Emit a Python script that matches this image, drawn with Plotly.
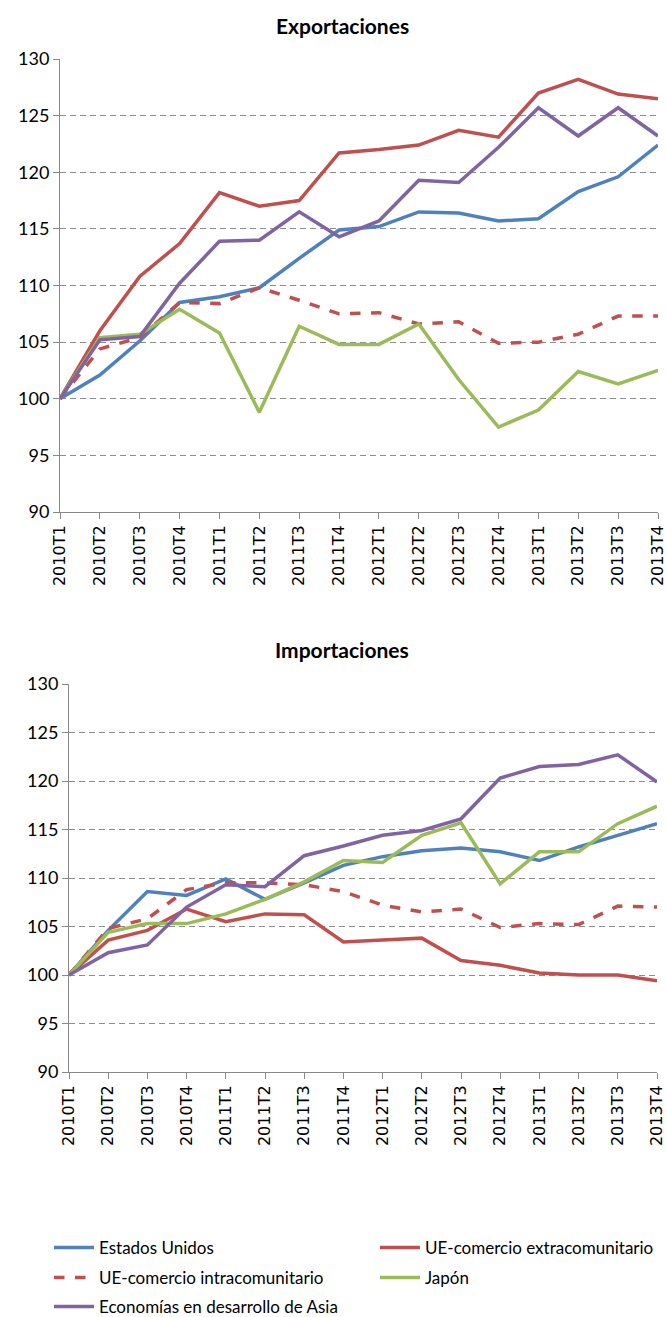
import plotly.graph_objects as go

periods = ["2010T1", "2010T2", "2010T3", "2010T4",
           "2011T1", "2011T2", "2011T3", "2011T4",
           "2012T1", "2012T2", "2012T3", "2012T4",
           "2013T1", "2013T2", "2013T3", "2013T4"]

series_names = ["Estados Unidos", "UE-comercio extracomunitario",
                "UE-comercio intracomunitario", "Japón",
                "Economías en desarrollo de Asia"]

# Exportaciones
exp_eeuu = [100, 102.1, 105.1, 108.5, 109.0, 109.8, 112.4, 114.9,
            115.2, 116.5, 116.4, 115.7, 115.9, 118.3, 119.6, 122.4]
exp_ue_extra = [100, 106.0, 110.8, 113.7, 118.2, 117.0, 117.5, 121.7,
                122.0, 122.4, 123.7, 123.1, 127.0, 128.2, 126.9, 126.5]
exp_ue_intra = [100, 104.4, 105.4, 108.5, 108.4, 109.8, 108.7, 107.5,
                107.6, 106.6, 106.8, 104.9, 105.0, 105.7, 107.3, 107.3]
exp_japon = [100, 105.4, 105.7, 107.9, 105.8, 98.8, 106.4, 104.8,
             104.8, 106.6, 101.7, 97.5, 99.0, 102.4, 101.3, 102.5]
exp_asia = [100, 105.2, 105.5, 110.2, 113.9, 114.0, 116.5, 114.3,
            115.7, 119.3, 119.1, 122.2, 125.7, 123.2, 125.7, 123.2]

# Importaciones
imp_eeuu = [100, 104.6, 108.6, 108.2, 109.9, 107.8, 109.5, 111.3,
            112.2, 112.8, 113.1, 112.7, 111.8, 113.2, 114.4, 115.6]
imp_ue_extra = [100, 103.6, 104.6, 106.8, 105.5, 106.3, 106.2, 103.4,
                103.6, 103.8, 101.5, 101.0, 100.2, 100.0, 100.0, 99.4]
imp_ue_intra = [100, 104.8, 105.8, 108.8, 109.5, 109.5, 109.3, 108.6,
                107.2, 106.5, 106.8, 104.9, 105.3, 105.2, 107.1, 107.0]
imp_japon = [100, 104.4, 105.3, 105.3, 106.3, 107.8, 109.6, 111.8,
             111.6, 114.4, 115.7, 109.4, 112.7, 112.7, 115.6, 117.4]
imp_asia = [100, 102.3, 103.1, 107.0, 109.3, 109.1, 112.3, 113.3,
            114.4, 114.9, 116.1, 120.3, 121.5, 121.7, 122.7, 119.9]

chart_titles = ["Exportaciones", "Importaciones"]
y_ticks = [90, 95, 100, 105, 110, 115, 120, 125, 130]

colors = ["#4F81BD", "#C0504D", "#C0504D", "#9BBB59", "#8064A2"]
dashes = ["solid", "solid", "dash", "solid", "solid"]
legend_ids = ["legend", "legend", "legend2", "legend2", "legend3"]

exp_data = [exp_eeuu, exp_ue_extra, exp_ue_intra, exp_japon, exp_asia]
imp_data = [imp_eeuu, imp_ue_extra, imp_ue_intra, imp_japon, imp_asia]

FONT = "Lato"
W, H = 667, 1317
fig = go.Figure()

for i, (name, vals) in enumerate(zip(series_names, exp_data)):
    fig.add_trace(go.Scatter(
        x=periods, y=vals, mode="lines", name=name,
        line=dict(color=colors[i], width=3.5, dash=dashes[i]),
        xaxis="x", yaxis="y", legend=legend_ids[i], showlegend=True))

for i, (name, vals) in enumerate(zip(series_names, imp_data)):
    fig.add_trace(go.Scatter(
        x=periods, y=vals, mode="lines", name=name,
        line=dict(color=colors[i], width=3.5, dash=dashes[i]),
        xaxis="x2", yaxis="y2", showlegend=False))


def xdom(a, b):
    return [a / W, b / W]


def ydom(top, bottom):
    return [1 - bottom / H, 1 - top / H]


axis_common_x = dict(
    type="category", range=[0, 15], tickangle=-90,
    showline=True, linecolor="#888888", linewidth=1,
    ticks="outside", ticklen=6, tickcolor="#888888",
    showgrid=False, zeroline=False, automargin=False,
    tickfont=dict(family="DejaVu Sans", size=16, color="#000000"),
)
axis_common_y = dict(
    range=[90, 130], tickvals=y_ticks,
    showline=True, linecolor="#888888", linewidth=1,
    ticks="outside", ticklen=6, tickcolor="#888888",
    showgrid=True, gridcolor="#8c8c8c", gridwidth=1, griddash="6px,4px",
    zeroline=False, automargin=False,
    tickfont=dict(family=FONT, size=18, color="#000000"),
)


def legend_row(center_y):
    return dict(
        orientation="h", x=49 / W, y=1 - center_y / H,
        xanchor="left", yanchor="middle",
        entrywidth=271, entrywidthmode="pixels", itemwidth=40,
        font=dict(family=FONT, size=17, color="#000000"),
        bgcolor="rgba(0,0,0,0)", traceorder="normal",
    )


fig.update_layout(
    width=W, height=H,
    template="none",
    paper_bgcolor="white", plot_bgcolor="white",
    margin=dict(l=0, r=0, t=0, b=0, autoexpand=False),
    xaxis=dict(domain=xdom(60, 658), anchor="y", **axis_common_x),
    yaxis=dict(domain=ydom(59, 512), anchor="x", **axis_common_y),
    xaxis2=dict(domain=xdom(69, 657), anchor="y2", **axis_common_x),
    yaxis2=dict(domain=ydom(684, 1072), anchor="x2", **axis_common_y),
    showlegend=True,
    legend=legend_row(1248),
    legend2=legend_row(1278),
    legend3=legend_row(1307),
    annotations=[
        dict(text="<b>" + chart_titles[0] + "</b>", x=342 / W, y=1 - 25 / H,
             xref="paper", yref="paper", showarrow=False,
             xanchor="center", yanchor="middle",
             font=dict(family=FONT, size=21, color="#000000")),
        dict(text="<b>" + chart_titles[1] + "</b>", x=342 / W, y=1 - 649 / H,
             xref="paper", yref="paper", showarrow=False,
             xanchor="center", yanchor="middle",
             font=dict(family=FONT, size=21, color="#000000")),
    ],
)

fig.write_html(
    "out.html",
    config={"displayModeBar": False},
    post_script="document.body.style.margin='0';document.body.style.overflow='hidden';",
)
